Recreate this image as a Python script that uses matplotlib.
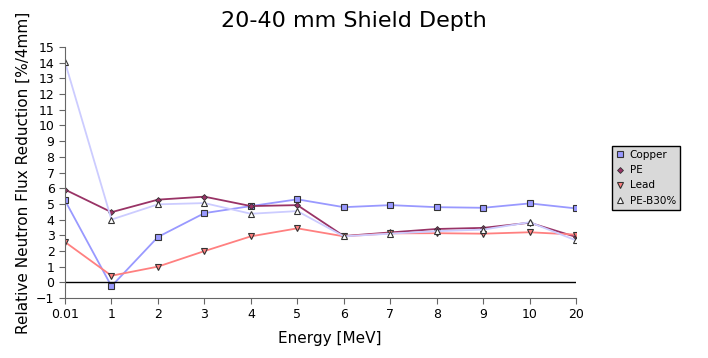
import numpy as np
import matplotlib
matplotlib.use('Agg')
import matplotlib.pyplot as plt

energies = ['0.01', '1', '2', '3', '4', '5', '6', '7', '8', '9', '10', '20']
copper = [5.22, -0.25, 2.89, 4.41, 4.86, 5.29, 4.79, 4.92, 4.79, 4.75, 5.03, 4.71]
pe = [5.91, 4.47, 5.27, 5.46, 4.86, 4.92, 2.95, 3.18, 3.40, 3.47, 3.80, 2.89]
lead = [2.57, 0.42, 1.0, 1.99, 2.93, 3.44, 2.93, 3.12, 3.13, 3.10, 3.19, 3.04]
pe_b30 = [14.04, 4.0, 4.97, 5.05, 4.37, 4.54, 2.93, 3.10, 3.26, 3.36, 3.83, 2.67]

fig = plt.figure(figsize=(7.08, 3.58), dpi=100)
ax = fig.add_axes([0.0918, 0.1676, 0.722, 0.7011])
x = np.arange(len(energies))

ax.plot(x, copper, '-s', color='#9999ff', lw=1.3, ms=4.5, mfc='#9999ff', mec='#333333', mew=0.8, label='Copper')
ax.plot(x, pe, '-D', color='#993366', lw=1.3, ms=3, mfc='#993366', mec='#333333', mew=0.6, label='PE')
ax.plot(x, lead, '-v', color='#ff8080', lw=1.3, ms=4.5, mfc='#ff8080', mec='#333333', mew=0.8, label='Lead')
ax.plot(x, pe_b30, '-^', color='#ccccff', lw=1.3, ms=4.5, mfc='white', mec='#333333', mew=0.8, label='PE-B30%')
ax.axhline(0, color='black', lw=1)

ax.set_xlim(0, len(energies) - 1)
ax.set_ylim(-1, 15)
ax.set_yticks(range(-1, 16))
ax.set_xticks(x)
ax.set_xticklabels(energies)
ax.tick_params(axis='both', labelsize=9, direction='out', length=4, color='#666666')
for s in ['top', 'right']:
    ax.spines[s].set_visible(False)
ax.spines['left'].set_color('#666666')
ax.spines['bottom'].set_color('#666666')

fig.suptitle('20-40 mm Shield Depth', fontsize=16, y=0.97)
ax.set_xlabel('Energy [MeV]', fontsize=11)
ax.xaxis.set_label_coords(0.517, -0.13)
ax.set_ylabel('Relative Neutron Flux Reduction [%/4mm]', fontsize=11)

leg = fig.legend(loc='upper left', bbox_to_anchor=(0.857, 0.607), fontsize=7.5, frameon=True,
                 fancybox=False, handlelength=0.8, handletextpad=0.5, borderpad=0.4, labelspacing=0.5)
leg.get_frame().set_facecolor('#d9d9d9')
leg.get_frame().set_edgecolor('black')
leg.get_frame().set_alpha(1)
for line in leg.get_lines():
    line.set_linestyle('')

fig.savefig('out.png', dpi=100)
